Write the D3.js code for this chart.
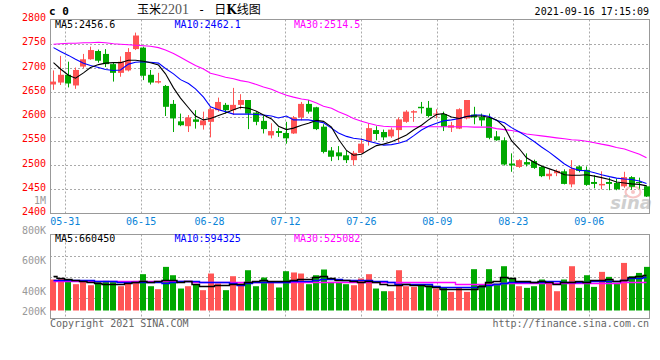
<!DOCTYPE html>
<html><head><meta charset="utf-8">
<script src="https://cdn.jsdelivr.net/npm/d3@7/dist/d3.min.js"></script>
<style>body{margin:0;background:#fff}svg{display:block}</style>
</head><body>
<svg id="c" width="660" height="360"></svg>
<script>
// ---------- data ----------
const dates=["05-27","05-28","05-31","06-01","06-02","06-03","06-04","06-07","06-08","06-09","06-10","06-11","06-15","06-16","06-17","06-18","06-21","06-22","06-23","06-24","06-25","06-28","06-29","06-30","07-01","07-02","07-05","07-06","07-07","07-08","07-09","07-12","07-13","07-14","07-15","07-16","07-19","07-20","07-21","07-22","07-23","07-26","07-27","07-28","07-29","07-30","08-02","08-03","08-04","08-05","08-06","08-09","08-10","08-11","08-12","08-13","08-16","08-17","08-18","08-19","08-20","08-23","08-24","08-25","08-26","08-27","08-30","08-31","09-01","09-02","09-03","09-06","09-07","09-08","09-09","09-10","09-13","09-14","09-15","09-16"];
const openP=[2666,2670,2686,2664,2703,2718,2735,2729,2708,2690,2695,2739,2742,2686,2670,2663,2626,2590,2580,2594,2582,2589,2613,2624,2613,2624,2634,2608,2591,2561,2570,2566,2565,2598,2626,2619,2579,2530,2526,2520,2510,2525,2549,2572,2568,2559,2572,2589,2608,2620,2618,2604,2605,2577,2575,2596,2604,2599,2597,2559,2551,2503,2496,2506,2508,2496,2477,2483,2487,2460,2497,2490,2465,2458,2465,2463,2456,2475,2465,2456];
const highP=[2695,2725,2713,2701,2729,2744,2738,2739,2711,2724,2741,2773,2744,2696,2690,2665,2634,2606,2603,2613,2610,2619,2639,2628,2659,2646,2634,2610,2601,2586,2577,2589,2601,2630,2634,2620,2584,2537,2539,2529,2529,2555,2586,2580,2573,2577,2598,2613,2613,2630,2632,2615,2610,2589,2617,2634,2620,2606,2606,2570,2557,2524,2512,2524,2511,2499,2491,2491,2491,2510,2499,2497,2479,2487,2474,2472,2486,2477,2474,2458];
const lowP=[2655,2665,2660,2657,2700,2717,2711,2702,2672,2682,2693,2737,2675,2666,2668,2601,2568,2580,2568,2575,2573,2557,2610,2606,2603,2615,2574,2582,2565,2555,2558,2544,2564,2592,2606,2572,2524,2508,2510,2504,2499,2524,2540,2551,2551,2556,2546,2587,2589,2606,2598,2596,2570,2568,2574,2594,2584,2580,2553,2550,2499,2486,2494,2497,2492,2475,2470,2477,2460,2454,2485,2457,2452,2450,2448,2448,2453,2449,2451,2434];
const closeP=[2672,2686,2668,2696,2718,2737,2715,2708,2690,2713,2733,2767,2684,2670,2673,2620,2596,2582,2598,2589,2592,2615,2630,2613,2624,2634,2606,2589,2574,2570,2566,2555,2598,2626,2610,2574,2527,2517,2518,2510,2525,2544,2576,2564,2557,2573,2594,2610,2611,2617,2601,2606,2579,2582,2615,2634,2598,2592,2556,2551,2501,2499,2510,2501,2494,2477,2482,2488,2461,2492,2488,2459,2461,2461,2461,2450,2475,2455,2463,2435];
const ma5=[2711,2698,2685,2679,2690,2701,2707,2710,2711,2711,2716,2716,2714,2711,2706,2688,2659,2638,2618,2601,2593,2596,2602,2607,2614,2619,2617,2611,2603,2595,2580,2573,2576,2582,2586,2592,2590,2578,2553,2530,2520,2522,2531,2540,2543,2548,2554,2562,2572,2582,2593,2604,2606,2599,2596,2600,2601,2601,2598,2593,2578,2550,2533,2515,2505,2498,2492,2487,2480,2479,2479,2480,2477,2474,2470,2465,2463,2461,2460,2457];
const ma10=[2742,2734,2726,2718,2710,2705,2701,2697,2695,2696,2708,2712,2713,2712,2710,2699,2688,2676,2668,2657,2640,2620,2614,2610,2605,2605,2605,2604,2603,2601,2597,2601,2593,2593,2593,2590,2587,2576,2566,2559,2555,2553,2549,2545,2541,2542,2545,2550,2560,2572,2580,2586,2591,2593,2596,2600,2603,2603,2600,2592,2587,2577,2568,2559,2548,2537,2526,2515,2502,2494,2489,2488,2484,2480,2476,2473,2471,2470,2467,2462];
const ma30=[2749,2750,2751,2751,2752,2752,2753,2752,2750,2749,2748,2747,2746,2745,2742,2737,2730,2722,2713,2705,2698,2689,2685,2681,2678,2674,2671,2666,2661,2656,2650,2644,2640,2636,2634,2628,2621,2617,2610,2603,2596,2590,2586,2582,2580,2579,2579,2579,2579,2579,2579,2579,2579,2579,2579,2579,2578,2578,2578,2575,2573,2571,2568,2564,2562,2560,2558,2556,2554,2552,2551,2549,2546,2543,2540,2536,2533,2528,2522,2515];
const volume=[564000,582000,564000,479000,521000,460000,521000,539000,521000,442000,521000,539000,661000,442000,388000,794000,642000,400000,442000,479000,370000,673000,491000,370000,624000,491000,733000,442000,600000,521000,419000,715000,692000,673000,479000,642000,746000,521000,521000,479000,460000,582000,661000,400000,351000,351000,733000,442000,430000,460000,460000,400000,419000,339000,419000,339000,752000,479000,752000,491000,806000,594000,442000,412000,442000,564000,510000,351000,564000,806000,412000,642000,430000,703000,612000,491000,866000,624000,684000,794000];
const vma5=[624000,594000,582000,560000,540000,521000,502000,479000,491000,491000,502000,521000,530000,521000,530000,564000,564000,521000,533000,491000,442000,455000,467000,467000,491000,491000,521000,539000,551000,533000,533000,533000,564000,582000,582000,612000,624000,594000,564000,551000,539000,521000,530000,510000,491000,460000,467000,491000,467000,467000,442000,419000,400000,388000,383000,383000,400000,448000,521000,533000,612000,600000,539000,533000,521000,533000,510000,491000,510000,521000,533000,510000,551000,564000,570000,539000,551000,612000,624000,655000];
const vma10=[564000,564000,564000,564000,564000,560000,545000,533000,533000,520000,510000,510000,510000,515000,521000,500000,521000,533000,533000,533000,520000,510000,510000,510000,500000,473000,500000,510000,521000,521000,521000,521000,533000,533000,545000,564000,570000,570000,570000,551000,551000,560000,560000,545000,533000,521000,491000,491000,479000,479000,479000,448000,430000,430000,430000,430000,430000,440000,470000,491000,500000,510000,515000,515000,520000,520000,530000,530000,510000,510000,510000,521000,530000,533000,533000,540000,560000,594000,594000,612000];
const vma30=[533000,546000,546000,546000,546000,546000,546000,546000,546000,546000,546000,546000,546000,546000,546000,546000,546000,546000,546000,525000,525000,510000,510000,510000,510000,510000,510000,510000,510000,510000,510000,510000,521000,521000,521000,521000,521000,521000,521000,521000,521000,521000,521000,521000,521000,521000,521000,521000,521000,521000,521000,521000,521000,521000,491000,491000,491000,491000,491000,491000,502000,502000,502000,502000,502000,502000,502000,502000,502000,502000,502000,502000,502000,502000,502000,502000,521000,521000,521000,521000];
const dateTickLabels=["05-31","06-15","06-28","07-12","07-26","08-09","08-23","09-06"];
const priceTicks=[2800,2750,2700,2650,2600,2550,2500,2450,2400];
const volTicks=[1000000,800000,600000,400000,200000];
const priceMaLabels=[{name:"MA5",value:"2456.6"},{name:"MA10",value:"2462.1"},{name:"MA30",value:"2514.5"}];
const volMaLabels=[{name:"MA5",value:"660450"},{name:"MA10",value:"594325"},{name:"MA30",value:"525082"}];
const titleParts=["玉米","2201","-","日","K","线图"];
const stamp="2021-09-16 17:15:09";

// ---------- drawing ----------
const svg=d3.select("#c");
const n=dates.length;
const L=50,R=650,PT=19.5,PB=213.5,VT=234.5,VB=318.5;
const mono="'DejaVu Sans Mono', 'Liberation Mono', monospace";
const RED="#ff5454",GREEN="#00a800",GRID="#aaaaaa",FRAME="#999999";
const maColors=["#000000","#0000ff","#ff00ff"];

const xb=d3.scaleBand().domain(d3.range(n)).range([L,R]).paddingInner(0.2);
const xg=d3.scalePoint().domain(d3.range(n)).range([L,R]);
const yP=d3.scaleLinear().domain([2400,2800]).range([PB,PT]);
const yV=d3.scaleLinear().domain([0,900000]).range([310.5,310.5-900000/18200]);
const yVL=d3.scaleLinear().domain([400000,1000000]).range([294.5,203.5]);
const cx=i=>Math.floor(xb(i)+xb.bandwidth()/2)+0.5;
const snap=v=>Math.round(v)+0.5;

const tickIdx=dateTickLabels.map(d=>dates.indexOf(d));

// grid price
const g=svg.append("g");
g.selectAll(".hp").data(priceTicks.filter(v=>v>2400&&v<2800)).join("line")
 .attr("x1",L).attr("x2",R).attr("y1",d=>snap(yP(d))).attr("y2",d=>snap(yP(d)))
 .attr("stroke",GRID).attr("stroke-dasharray","2,2");
g.selectAll(".vp").data(tickIdx).join("line")
 .attr("x1",d=>snap(xg(d))).attr("x2",d=>snap(xg(d))).attr("y1",PT).attr("y2",PB)
 .attr("stroke",GRID).attr("stroke-dasharray","2,2");
// grid volume
const vq=d3.scaleLinear().domain([0,4]).range([VT,VB]);
g.selectAll(".hv").data([1,2,3]).join("line")
 .attr("x1",L).attr("x2",R).attr("y1",d=>snap(vq(d))).attr("y2",d=>snap(vq(d)))
 .attr("stroke",GRID).attr("stroke-dasharray","2,2");
g.selectAll(".vv").data(tickIdx).join("line")
 .attr("x1",d=>snap(xg(d))).attr("x2",d=>snap(xg(d))).attr("y1",VT).attr("y2",VB)
 .attr("stroke",GRID).attr("stroke-dasharray","2,2");

// watermark
const wm=svg.append("g").attr("opacity",0.6);
wm.append("ellipse").attr("cx",633).attr("cy",192).attr("rx",7.5).attr("ry",5.5).attr("fill","none").attr("stroke","#f2a0a0").attr("stroke-width",2.2);
wm.append("circle").attr("cx",633).attr("cy",192).attr("r",2).attr("fill","#f2a0a0");
wm.append("text").attr("x",652).attr("y",209).attr("text-anchor","end")
 .attr("font-family","'DejaVu Sans', sans-serif").attr("font-weight","bold").attr("font-style","italic")
 .attr("font-size",18).attr("fill","#b0b0b0").text("sina");

// frames
svg.append("rect").attr("x",L+0.5).attr("y",PT).attr("width",R-L-1).attr("height",PB-PT).attr("fill","none").attr("stroke",FRAME);
svg.append("rect").attr("x",L+0.5).attr("y",VT).attr("width",R-L-1).attr("height",VB-VT).attr("fill","none").attr("stroke",FRAME);

// candles
const data=d3.range(n).map(i=>({i,o:openP[i],h:highP[i],l:lowP[i],c:closeP[i],v:volume[i]}));
const col=d=>d.c>=d.o?RED:GREEN;
const cg=svg.append("g");
cg.selectAll(".wick").data(data).join("line")
 .attr("x1",d=>cx(d.i)).attr("x2",d=>cx(d.i))
 .attr("y1",d=>yP(d.h)).attr("y2",d=>yP(d.l)).attr("stroke",col).attr("stroke-width",1);
cg.selectAll(".body").data(data).join("rect")
 .attr("x",d=>Math.round(xb(d.i))).attr("width",Math.round(xb.bandwidth()))
 .attr("y",d=>yP(Math.max(d.o,d.c)))
 .attr("height",d=>Math.max(1,Math.abs(yP(d.o)-yP(d.c))))
 .attr("fill",col);

// price MAs
const line=d3.line().x((d,i)=>cx(i)).y(d=>yP(d));
[ma30,ma10,ma5].forEach((s,k)=>{
  svg.append("path").attr("d",line(s)).attr("fill","none")
   .attr("stroke",maColors[2-k]).attr("stroke-width",1.1);
});

// volume bars
svg.append("g").selectAll("rect").data(data).join("rect")
 .attr("x",d=>Math.round(xb(d.i))).attr("width",Math.round(xb.bandwidth()))
 .attr("y",d=>yV(d.v)).attr("height",d=>yV(0)-yV(d.v)).attr("fill",col);
const vline=d3.line().x((d,i)=>cx(i)).y(d=>snap(yV(d))).curve(d3.curveStep);
[vma30,vma10,vma5].forEach((s,k)=>{
  svg.append("path").attr("d",vline(s)).attr("fill","none")
   .attr("stroke",maColors[2-k]).attr("stroke-width",1.4);
});

// axis labels
svg.append("g").selectAll("text").data(priceTicks).join("text")
 .attr("x",46).attr("y",d=>yP(d)+1.5).attr("text-anchor","end")
 .attr("font-family",mono).attr("font-size",10).attr("fill","#ff0000").text(d=>d);
svg.append("g").selectAll("text").data(volTicks).join("text")
 .attr("x",46).attr("y",d=>Math.min(315,yVL(d))).attr("text-anchor","end")
 .attr("font-family",mono).attr("font-size",10).attr("fill","#999999")
 .text(d=>d>=1000000?(d/1000000)+"M":(d/1000)+"K");
svg.append("g").selectAll("text").data(tickIdx).join("text")
 .attr("x",d=>xg(d)).attr("y",224.5).attr("text-anchor","middle")
 .attr("font-family",mono).attr("font-size",10).attr("fill","#0a84d8")
 .text((d,k)=>dateTickLabels[k]);

// header MA labels
const maX=[55,174.5,294];
svg.append("g").selectAll("text").data(priceMaLabels).join("text")
 .attr("x",(d,k)=>maX[k]).attr("y",28).attr("font-family",mono).attr("font-size",10)
 .attr("fill",(d,k)=>maColors[k]).text(d=>d.name+":"+d.value);
svg.append("g").selectAll("text").data(volMaLabels).join("text")
 .attr("x",(d,k)=>maX[k]).attr("y",242).attr("font-family",mono).attr("font-size",10)
 .attr("fill",(d,k)=>maColors[k]).text(d=>d.name+":"+d.value);

// title
svg.append("text").attr("x",49).attr("y",15).attr("font-family",mono).attr("font-weight","bold")
 .attr("font-size",11).attr("fill","#000").text("c 0");
const t=svg.append("text").attr("x",137).attr("y",14).attr("fill","#000").attr("font-size",12);
t.append("tspan").attr("font-family","'Noto Sans CJK SC'").text(titleParts[0]);
t.append("tspan").attr("font-family","'Liberation Serif', serif").attr("font-size",14).attr("fill","#555").text(titleParts[1]);
t.append("tspan").attr("dx",9).attr("font-family",mono).attr("font-size",12).text(titleParts[2]);
t.append("tspan").attr("dx",9).attr("font-family","'Noto Sans CJK SC'").text(titleParts[3]);
t.append("tspan").attr("font-family","'DejaVu Serif', serif").attr("font-weight","bold").text(titleParts[4]);
t.append("tspan").attr("font-family","'Noto Sans CJK SC'").text(titleParts[5]);
svg.append("text").attr("x",649).attr("y",15).attr("text-anchor","end").attr("font-family",mono)
 .attr("font-size",10).attr("fill","#000").text(stamp);

// footer
svg.append("text").attr("x",50).attr("y",327).attr("font-family",mono).attr("font-size",10)
 .attr("fill","#666").text("Copyright 2021 SINA.COM");
svg.append("text").attr("x",649).attr("y",327).attr("text-anchor","end").attr("font-family",mono)
 .attr("font-size",10).attr("fill","#666").text("http://finance.sina.com.cn");
</script>
</body></html>
